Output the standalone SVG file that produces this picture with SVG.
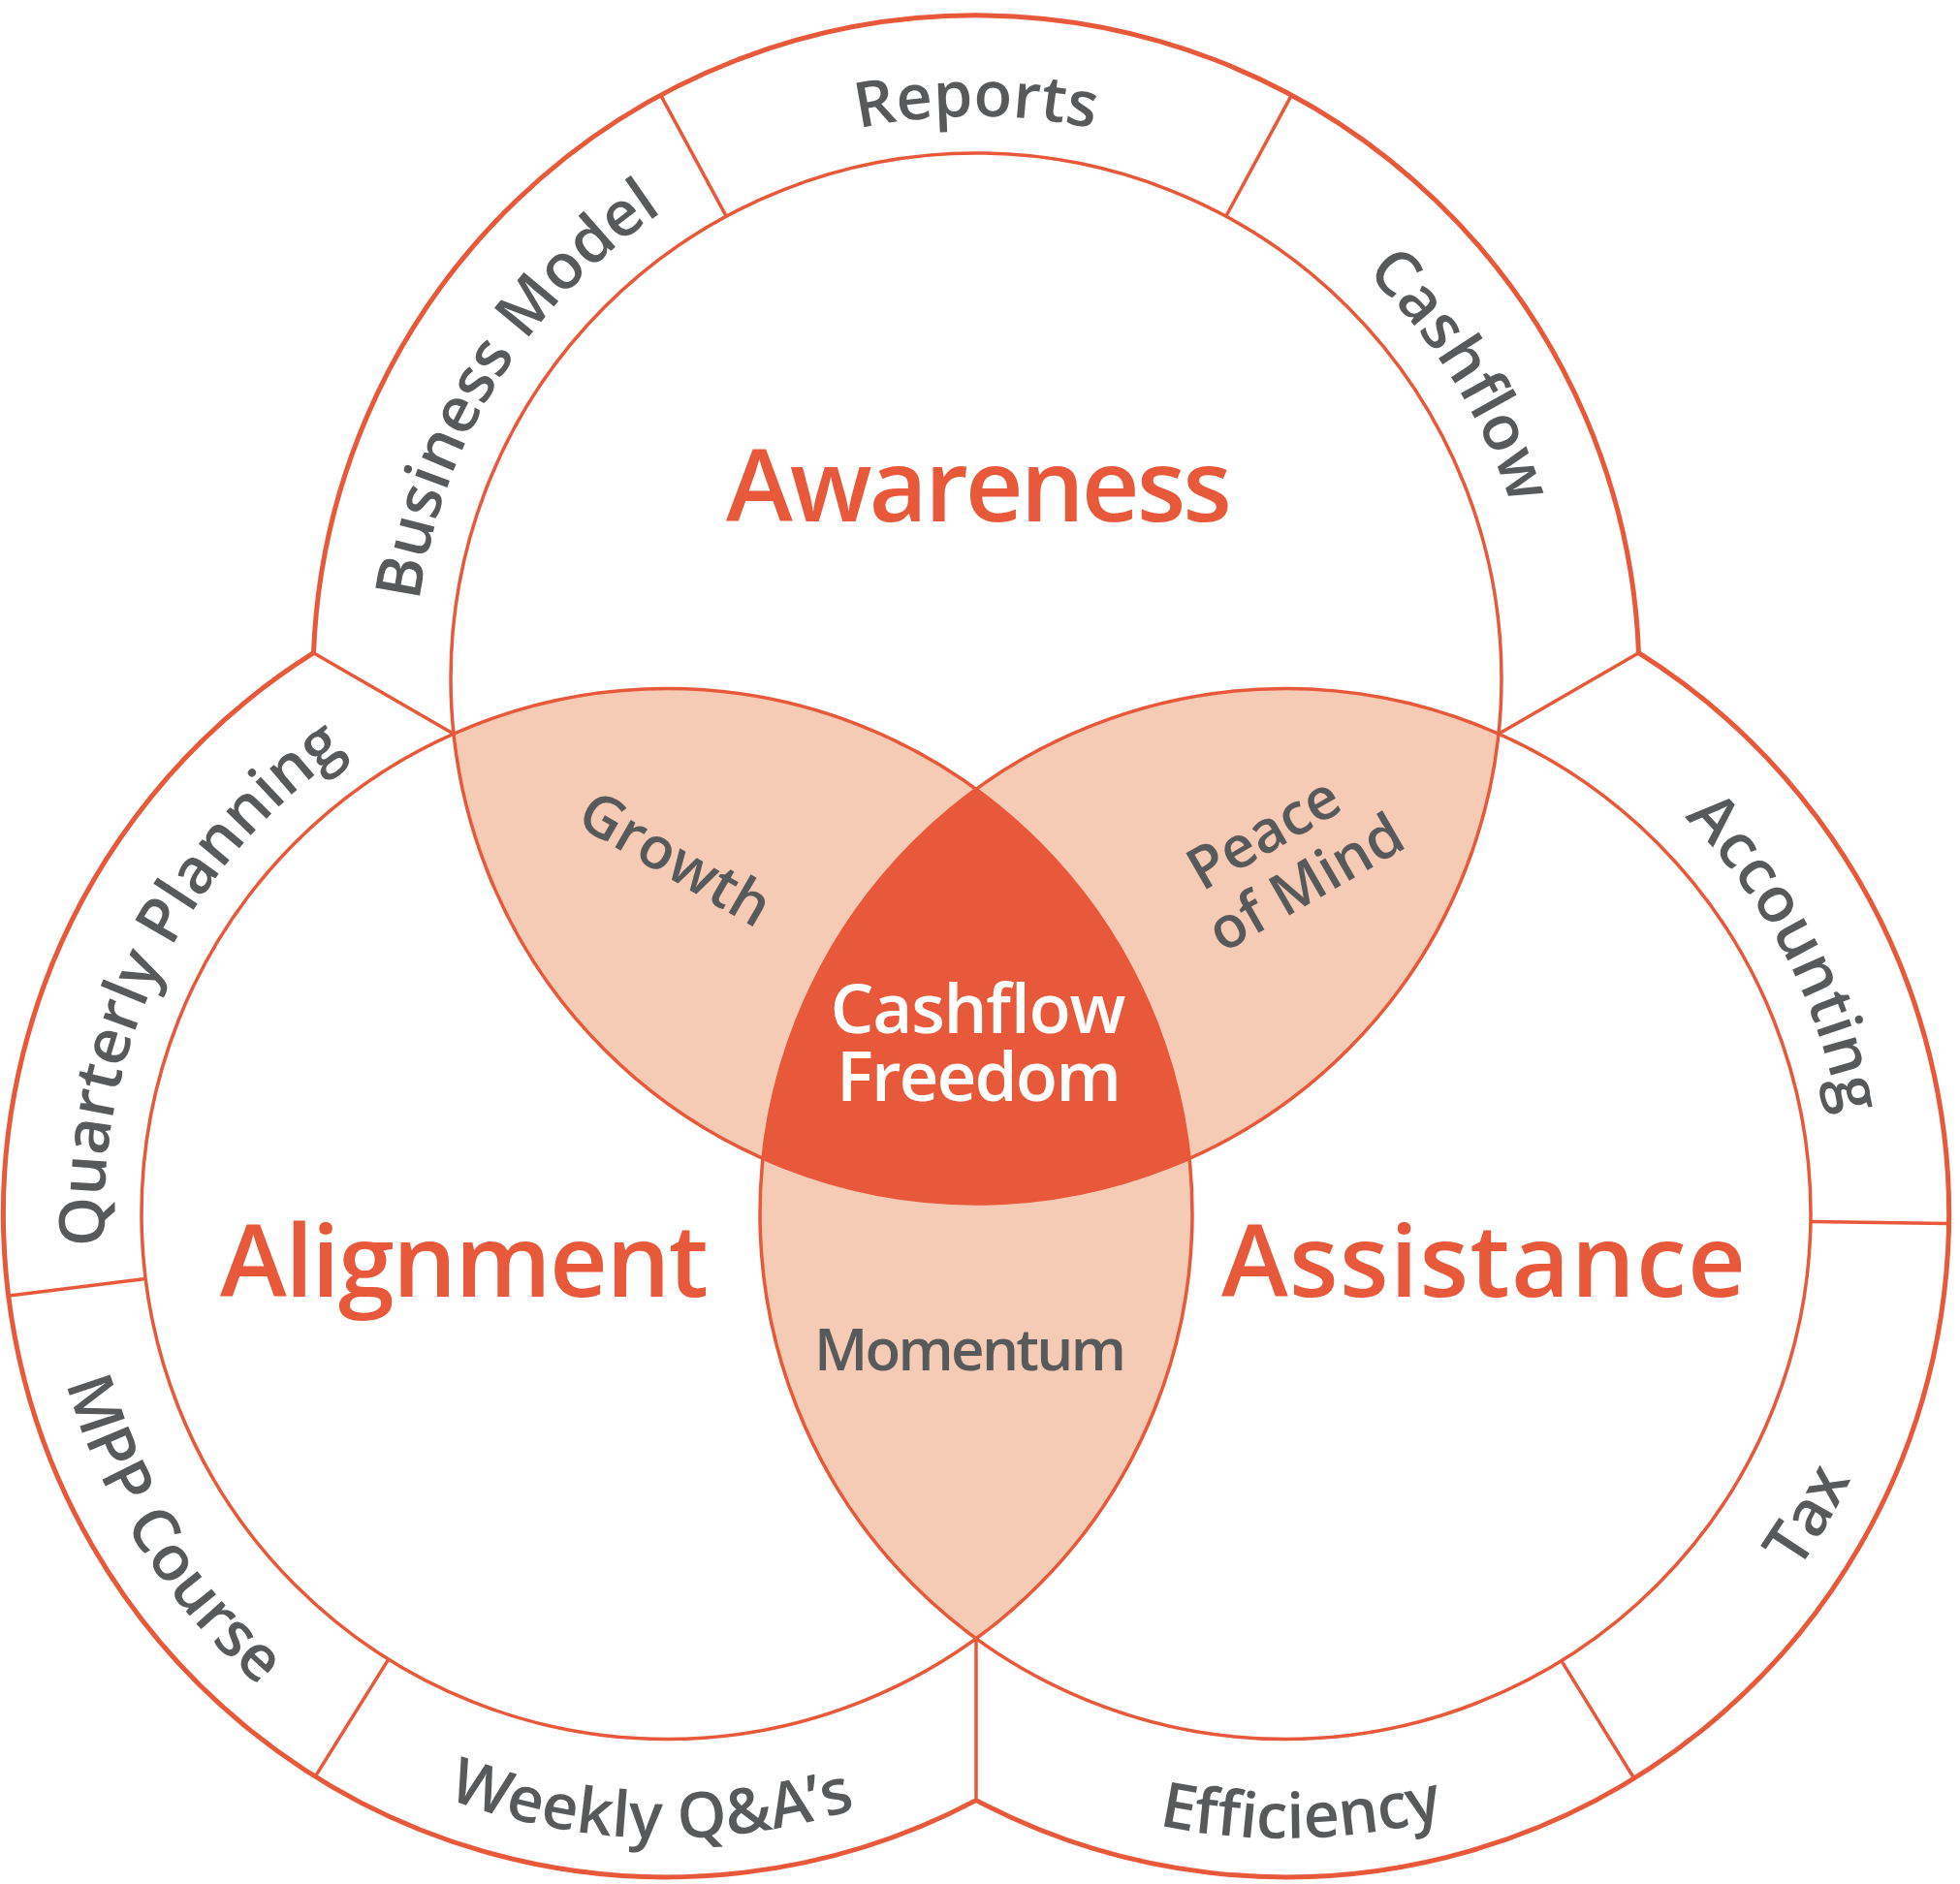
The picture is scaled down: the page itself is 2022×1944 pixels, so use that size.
<svg xmlns="http://www.w3.org/2000/svg" width="2022" height="1944" viewBox="0 0 2022 1944">
<style>
.ln{fill:none;stroke:#E8583A;stroke-width:3.5}
.outer{fill:none;stroke:#E8583A;stroke-width:5;stroke-linejoin:round}
.title{font-family:"Open Sans","Noto Sans","Liberation Sans",sans-serif;font-weight:600;font-size:104px;fill:#E8583A;text-anchor:middle}
.lens{font-family:"Open Sans","Noto Sans","Liberation Sans",sans-serif;font-weight:600;font-size:60px;fill:#58595B;text-anchor:middle}
.core{font-family:"Open Sans","Noto Sans","Liberation Sans",sans-serif;font-weight:600;font-size:71px;fill:#FFFFFF;text-anchor:middle}
.ring{font-family:"Open Sans","Noto Sans","Liberation Sans",sans-serif;font-weight:600;font-size:65px;fill:#58595B;text-anchor:middle}
</style>
<defs>
<clipPath id="cT"><circle cx="1007" cy="700" r="542"/></clipPath>
<clipPath id="cL"><circle cx="688" cy="1252.5" r="542"/></clipPath>
<path id="pReports" d="M 429.2 649.4 A 580 580 0 0 1 1584.8 649.4"/>
<path id="pBusiness" d="M 657.9 1163.2 A 580 580 0 0 1 1270.3 183.2"/>
<path id="pCashflow" d="M 743.7 183.2 A 580 580 0 0 1 1356.1 1163.2"/>
<path id="pQuarterly" d="M 389.3 1749.7 A 580 580 0 0 1 895.9 711.0"/>
<path id="pMPP" d="M 296.0 741.6 A 644 644 0 0 0 985.4 1823.7"/>
<path id="pWeekly" d="M 45.2 1291.8 A 644 644 0 0 0 1327.9 1325.4"/>
<path id="pAccounting" d="M 1104.0 716.6 A 580 580 0 0 1 1637.6 1741.7"/>
<path id="pTax" d="M 1053.8 1836.2 A 644 644 0 0 0 1695.4 725.0"/>
<path id="pEfficiency" d="M 686.1 1325.4 A 644 644 0 0 0 1968.8 1291.8"/>
</defs>
<rect x="0" y="0" width="2022" height="1944" fill="#FFFFFF"/>

<g id="overlaps">
<g clip-path="url(#cT)">
<circle cx="688" cy="1252.5" r="542" fill="#F6CBB5"/>
<circle cx="1326" cy="1252.5" r="542" fill="#F6CBB5"/>
</g>
<g clip-path="url(#cL)">
<circle cx="1326" cy="1252.5" r="542" fill="#F6CBB5"/>
</g>
<g clip-path="url(#cT)"><g clip-path="url(#cL)">
<circle cx="1326" cy="1252.5" r="542" fill="#E8583A"/>
</g></g>
</g>

<g id="awareness">
<circle class="ln" cx="1007" cy="700" r="542"/>
<text class="title" x="1010" y="538" textLength="522">Awareness</text>
</g>
<g id="alignment">
<circle class="ln" cx="688" cy="1252.5" r="542"/>
<text class="title" x="479" y="1338" textLength="504">Alignment</text>
</g>
<g id="assistance">
<circle class="ln" cx="1326" cy="1252.5" r="542"/>
<text class="title" x="1530.5" y="1338" textLength="541">Assistance</text>
</g>

<g id="growth">
<text class="lens" transform="translate(697,886) rotate(30)" x="0" y="21">Growth</text>
</g>
<g id="peace-of-mind" transform="translate(1325,885) rotate(-30)">
<text class="lens" x="-6" y="-12">Peace</text>
<text class="lens" x="6" y="54">of Mind</text>
</g>
<g id="momentum">
<text class="lens" x="1001" y="1414" textLength="322">Momentum</text>
</g>
<g id="cashflow-freedom">
<text class="core" x="1009" y="1066" textLength="305">Cashflow</text>
<text class="core" x="1010" y="1136" textLength="294">Freedom</text>
</g>

<g id="outer-ring">
<path class="outer" d="M 323.5 673.7 A 684 684 0 0 1 1690.5 673.7 A 684 684 0 0 1 1007 1857.6 A 684 684 0 0 1 323.5 673.7 Z"/>
</g>

<g id="connectors">
<line class="ln" x1="323.5" y1="673.7" x2="468" y2="757.2"/>
<line class="ln" x1="1690.5" y1="673.7" x2="1546" y2="757.2"/>
<line class="ln" x1="1007" y1="1857.6" x2="1007" y2="1690.7"/>
<line class="ln" x1="749.2" y1="223.2" x2="681.7" y2="98.3"/>
<line class="ln" x1="1264.8" y1="223.2" x2="1332.3" y2="98.3"/>
<line class="ln" x1="150.2" y1="1319.5" x2="9.2" y2="1337.0"/>
<line class="ln" x1="400.8" y1="1712.1" x2="325.5" y2="1832.6"/>
<line class="ln" x1="1867.9" y1="1260.5" x2="2009.9" y2="1262.6"/>
<line class="ln" x1="1610.8" y1="1713.6" x2="1685.4" y2="1834.5"/>
</g>

<g id="ring-reports"><text class="ring"><textPath href="#pReports" startOffset="50%">Reports</textPath></text></g>
<g id="ring-business-model"><text class="ring"><textPath href="#pBusiness" startOffset="50%">Business Model</textPath></text></g>
<g id="ring-cashflow"><text class="ring"><textPath href="#pCashflow" startOffset="50%">Cashflow</textPath></text></g>
<g id="ring-quarterly-planning"><text class="ring"><textPath href="#pQuarterly" startOffset="50%">Quarterly Planning</textPath></text></g>
<g id="ring-mpp-course"><text class="ring"><textPath href="#pMPP" startOffset="50%">MPP Course</textPath></text></g>
<g id="ring-weekly-qa"><text class="ring"><textPath href="#pWeekly" startOffset="50%">Weekly Q&amp;A’s</textPath></text></g>
<g id="ring-accounting"><text class="ring"><textPath href="#pAccounting" startOffset="50%">Accounting</textPath></text></g>
<g id="ring-tax"><text class="ring"><textPath href="#pTax" startOffset="50%">Tax</textPath></text></g>
<g id="ring-efficiency"><text class="ring"><textPath href="#pEfficiency" startOffset="50%">Efficiency</textPath></text></g>
</svg>
